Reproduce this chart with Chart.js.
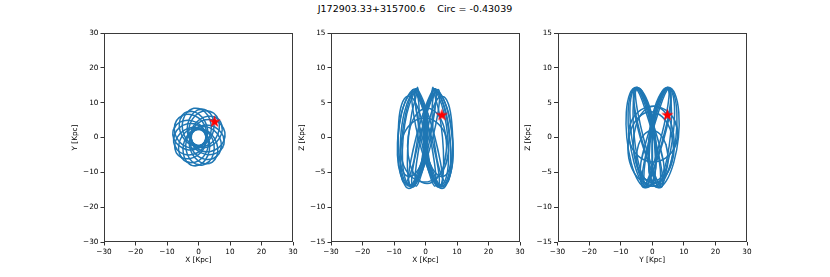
<!DOCTYPE html>
<html>
<head>
<meta charset="utf-8">
<script src="https://cdn.jsdelivr.net/npm/chart.js@4.4.0/dist/chart.umd.min.js"></script>
<style>
    body { margin: 0; background: #fff; }
    #quadro { position: relative; width: 830px; height: 277px; }
    #quadro canvas { position: absolute; left: 0; top: 0; }
    #titulo {
        position: absolute; left: 0; top: 3px; width: 830px;
        text-align: center; white-space: pre;
        font: 9.5px "DejaVu Sans"; line-height: 12px; color: #000;
    }
</style>
</head>
<body>
<div id="quadro">
    <div id="titulo">J172903.33+315700.6    Circ = -0.43039</div>
    <canvas id="painelXY" width="830" height="277"></canvas>
    <canvas id="painelXZ" width="830" height="277"></canvas>
    <canvas id="painelYZ" width="830" height="277"></canvas>
</div>
<script>
// Laços da órbita (kpc), cada um uma volta fechada
const orbitaXY = [
    [[8.37, 1.48], [7.26, 3.62], [5.02, 4.93], [2.25, 5.07], [-0.30, 3.99], [-1.95, 1.99], [-2.27, -0.40], [-1.15, -2.54], [1.09, -3.85], [3.85, -3.99], [6.41, -2.92], [8.06, -0.91]],
    [[4.88, 6.96], [2.58, 7.69], [0.07, 7.04], [-1.99, 5.18], [-3.03, 2.62], [-2.79, 0.03], [-1.32, -1.88], [0.98, -2.61], [3.49, -1.96], [5.55, -0.10], [6.59, 2.46], [6.35, 5.05]],
    [[-1.48, 8.37], [-3.62, 7.26], [-4.93, 5.02], [-5.07, 2.25], [-3.99, -0.30], [-1.99, -1.95], [0.40, -2.27], [2.54, -1.15], [3.85, 1.09], [3.99, 3.85], [2.92, 6.41], [0.91, 8.06]],
    [[-6.96, 4.88], [-7.69, 2.58], [-7.04, 0.07], [-5.18, -1.99], [-2.62, -3.03], [-0.03, -2.79], [1.88, -1.32], [2.61, 0.98], [1.96, 3.49], [0.10, 5.55], [-2.46, 6.59], [-5.05, 6.35]],
    [[-7.88, -1.39], [-6.80, -3.49], [-4.62, -4.77], [-1.93, -4.91], [0.56, -3.86], [2.16, -1.90], [2.46, 0.44], [1.38, 2.53], [-0.80, 3.82], [-3.49, 3.95], [-5.97, 2.90], [-7.58, 0.95]],
    [[-4.59, -6.55], [-2.35, -7.27], [0.11, -6.64], [2.11, -4.84], [3.12, -2.34], [2.87, 0.18], [1.44, 2.05], [-0.81, 2.76], [-3.26, 2.14], [-5.27, 0.33], [-6.28, -2.17], [-6.03, -4.68]],
    [[1.39, -7.88], [3.49, -6.80], [4.77, -4.62], [4.91, -1.93], [3.86, 0.56], [1.90, 2.16], [-0.44, 2.46], [-2.53, 1.38], [-3.82, -0.80], [-3.95, -3.49], [-2.90, -5.97], [-0.95, -7.58]],
    [[6.55, -4.59], [7.27, -2.35], [6.64, 0.11], [4.84, 2.11], [2.34, 3.12], [-0.18, 2.87], [-2.05, 1.44], [-2.76, -0.81], [-2.14, -3.26], [-0.33, -5.27], [2.17, -6.28], [4.68, -6.03]],
    [[7.04, 4.40], [5.32, 5.80], [2.86, 6.08], [0.32, 5.15], [-1.63, 3.27], [-2.46, 0.94], [-1.95, -1.22], [-0.24, -2.62], [2.23, -2.90], [4.77, -1.97], [6.72, -0.09], [7.55, 2.24]],
    [[-7.04, -4.40], [-5.32, -5.80], [-2.86, -6.08], [-0.32, -5.15], [1.63, -3.27], [2.46, -0.94], [1.95, 1.22], [0.24, 2.62], [-2.23, 2.90], [-4.77, 1.97], [-6.72, 0.09], [-7.55, -2.24]],
    [[-4.40, 7.04], [-5.80, 5.32], [-6.08, 2.86], [-5.15, 0.32], [-3.27, -1.63], [-0.94, -2.46], [1.22, -1.95], [2.62, -0.24], [2.90, 2.23], [1.97, 4.77], [0.09, 6.72], [-2.24, 7.55]],
    [[4.40, -7.04], [5.80, -5.32], [6.08, -2.86], [5.15, -0.32], [3.27, 1.63], [0.94, 2.46], [-1.22, 1.95], [-2.62, 0.24], [-2.90, -2.23], [-1.97, -4.77], [-0.09, -6.72], [2.24, -7.55]],
    [[1.87, 8.08], [-0.34, 7.87], [-2.27, 6.32], [-3.42, 3.87], [-3.46, 1.16], [-2.40, -1.08], [-0.52, -2.24], [1.69, -2.02], [3.62, -0.48], [4.77, 1.98], [4.81, 4.69], [3.75, 6.92]],
    [[-1.87, -8.08], [0.34, -7.87], [2.27, -6.32], [3.42, -3.87], [3.46, -1.16], [2.40, 1.08], [0.52, 2.24], [-1.69, 2.02], [-3.62, 0.48], [-4.77, -1.98], [-4.81, -4.69], [-3.75, -6.92]],
    [[-8.08, 1.87], [-7.87, -0.34], [-6.32, -2.27], [-3.87, -3.42], [-1.16, -3.46], [1.08, -2.40], [2.24, -0.52], [2.02, 1.69], [0.48, 3.62], [-1.98, 4.77], [-4.69, 4.81], [-6.92, 3.75]],
    [[8.08, -1.87], [7.87, 0.34], [6.32, 2.27], [3.87, 3.42], [1.16, 3.46], [-1.08, 2.40], [-2.24, 0.52], [-2.02, -1.69], [-0.48, -3.62], [1.98, -4.77], [4.69, -4.81], [6.92, -3.75]]
];

const orbitaXZ = [
    [[0.70, 0], [0.30, 3.5], [-2.0, 6.0], [-3.0, 7.0], [-5.48, 6.06], [-7.57, 3.5], [-8.7, 0], [-8.57, -3.5], [-7.22, -6.06], [-5.0, -7.0], [-2.52, -6.06], [-0.43, -3.5]],
    [[0.10, 0], [0.30, 3.4], [-1.9, 5.8], [-2.6, 6.8], [-4.12, 5.89], [-5.94, 3.4], [-7.10, 0], [-7.30, -3.4], [-6.48, -5.89], [-4.86, -6.8], [-2.88, -5.89], [-1.06, -3.4]],
    [[-0.20, 0], [0.16, 3.55], [-2.0, 6.3], [-2.6, 7.2], [-2.87, 6.15], [-4.34, 3.55], [-5.40, 0], [-5.76, -3.55], [-5.33, -6.15], [-4.22, -7.1], [-2.73, -6.15], [-1.26, -3.55]],
    [[0.5, 0], [0.4, 3.45], [-1.95, 5.9], [-2.8, 6.9], [-4.8, 6.0], [-6.8, 3.45], [-7.9, 0], [-7.95, -3.45], [-6.85, -6.0], [-4.9, -6.9], [-2.7, -6.0], [-0.7, -3.45]],
    [[0.4, -0.5], [0.0, 3.0], [-2.2, 5.7], [-3.6, 6.6], [-5.9, 5.6], [-7.9, 3.0], [-8.9, -0.8], [-8.6, -4.0], [-7.0, -6.4], [-5.5, -7.3], [-3.2, -6.6], [-0.9, -4.2]],
    [[-2.5, 0], [-2.02, 3.25], [-2.34, 5.63], [-3.37, 6.5], [-4.84, 5.63], [-6.36, 3.25], [-7.5, 0], [-7.98, -3.25], [-7.66, -5.63], [-6.63, -6.5], [-5.16, -5.63], [-3.64, -3.25]],
    [[0.2, -1.0], [-1.5, 3.0], [-4.0, 5.6], [-6.2, 5.8], [-7.9, 4.2], [-8.6, 1.2], [-8.4, -2.5], [-7.0, -5.0], [-4.8, -5.6], [-2.6, -4.8], [-0.9, -3.3], [0.4, -2.2]],
    [[-0.70, 0], [-0.30, 3.5], [1.8, 6.0], [2.8, 7.0], [5.1, 6.06], [7.2, 3.5], [8.5, 0], [8.6, -3.5], [7.3, -6.06], [5.2, -7.1], [2.6, -6.1], [0.45, -3.5]],
    [[-0.10, 0], [-0.30, 3.4], [1.8, 5.8], [2.4, 6.8], [4.12, 5.89], [5.94, 3.4], [7.10, 0], [7.30, -3.4], [6.48, -5.89], [4.86, -6.8], [2.88, -5.89], [1.06, -3.4]],
    [[0.20, 0], [-0.16, 3.55], [1.9, 6.3], [2.4, 7.2], [2.87, 6.15], [4.34, 3.55], [5.40, 0], [5.76, -3.55], [5.33, -6.15], [4.22, -7.1], [2.73, -6.15], [1.26, -3.55]],
    [[-0.5, 0], [-0.4, 3.45], [1.85, 5.9], [2.6, 6.9], [4.6, 6.0], [6.6, 3.45], [7.8, 0], [8.0, -3.45], [6.9, -6.0], [5.0, -7.0], [2.7, -6.0], [0.7, -3.45]],
    [[-0.4, -0.5], [0.0, 3.0], [2.0, 5.7], [3.3, 6.6], [5.6, 5.6], [7.6, 3.0], [8.7, -0.8], [8.5, -4.0], [7.0, -6.4], [5.5, -7.3], [3.2, -6.6], [0.9, -4.2]],
    [[2.6, 0], [2.1, 3.25], [2.4, 5.63], [3.4, 6.5], [4.9, 5.63], [6.5, 3.25], [7.6, 0], [8.1, -3.25], [7.7, -5.63], [6.7, -6.5], [5.2, -5.63], [3.7, -3.25]],
    [[-0.2, -1.0], [1.5, 3.0], [3.9, 5.6], [6.0, 5.8], [7.6, 4.3], [8.5, 1.2], [8.5, -2.5], [7.1, -5.0], [4.9, -5.6], [2.7, -4.8], [1.0, -3.3], [-0.3, -2.2]],
    [[3.0, 0], [0.73, 3.5], [-1.46, 6.06], [-3.0, 7.0], [-3.46, 6.06], [-2.73, 3.5], [-1.0, 0], [1.27, -3.5], [3.46, -6.06], [5.0, -7.0], [5.46, -6.06], [4.73, -3.5]],
    [[-3.0, 0], [-0.73, 3.5], [1.46, 6.06], [3.0, 7.0], [3.46, 6.06], [2.73, 3.5], [1.0, 0], [-1.27, -3.5], [-3.46, -6.06], [-5.0, -7.0], [-5.46, -6.06], [-4.73, -3.5]],
    [[1.5, 0], [-0.2, 3.5], [-1.85, 6.06], [-3.0, 7.0], [-3.35, 6.06], [-2.8, 3.5], [-1.5, 0], [0.2, -3.5], [1.85, -6.06], [3.0, -7.0], [3.35, -6.06], [2.8, -3.5]],
    [[-1.5, 0], [0.2, 3.5], [1.85, 6.06], [3.0, 7.0], [3.35, 6.06], [2.8, 3.5], [1.5, 0], [-0.2, -3.5], [-1.85, -6.06], [-3.0, -7.0], [-3.35, -6.06], [-2.8, -3.5]],
    [[1.8, 0.2], [-0.5, 3.6], [-2.5, 6.1], [-3.9, 6.9], [-4.4, 6.0], [-3.8, 3.4], [-2.2, -0.2], [0.1, -3.7], [2.3, -6.1], [3.9, -7.1], [4.4, -6.1], [3.6, -3.4]],
    [[-1.8, 0.2], [0.5, 3.6], [2.6, 6.1], [4.0, 6.9], [4.5, 6.0], [3.9, 3.4], [2.2, -0.2], [-0.1, -3.7], [-2.3, -6.1], [-3.9, -7.1], [-4.4, -6.1], [-3.6, -3.4]],
    [[6.7, -1.2], [5.87, 1.5], [3.6, 3.48], [0.5, 4.2], [-2.6, 3.48], [-4.87, 1.5], [-5.7, -1.2], [-4.87, -3.9], [-2.6, -5.88], [0.5, -6.6], [3.6, -5.88], [5.87, -3.9]],
    [[7.3, -1.8], [6.28, 0.5], [3.5, 2.18], [-0.3, 2.8], [-4.1, 2.18], [-6.88, 0.5], [-7.9, -1.8], [-6.88, -4.1], [-4.1, -5.78], [-0.3, -6.4], [3.5, -5.78], [6.28, -4.1]]
];

const orbitaYZ = [
    [[1.06, 0], [-0.32, 3.6], [-2.56, 6.24], [-5.04, 7.2], [-7.12, 6.24], [-8.22, 3.6], [-8.06, 0], [-6.68, -3.6], [-4.44, -6.24], [-1.96, -7.2], [0.12, -6.24], [1.22, -3.6]],
    [[0.5, 0], [-1.02, 3.5], [-3.07, 6.06], [-5.10, 7.0], [-6.57, 6.06], [-7.08, 3.5], [-6.5, 0], [-4.98, -3.5], [-2.93, -6.06], [-0.9, -7.0], [0.57, -6.06], [1.08, -3.5]],
    [[0.80, 0], [-1.43, 3.55], [-3.54, 6.15], [-4.98, 7.1], [-5.34, 6.15], [-4.55, 3.55], [-2.80, 0], [-0.57, -3.55], [1.54, -6.15], [2.98, -7.1], [3.34, -6.15], [2.55, -3.55]],
    [[0.8, 0], [-0.6, 3.55], [-2.8, 6.15], [-5.07, 7.1], [-6.85, 6.15], [-7.65, 3.55], [-7.3, 0], [-5.8, -3.55], [-3.7, -6.15], [-1.4, -7.1], [0.35, -6.15], [1.15, -3.55]],
    [[1.6, 0], [-0.9, 3.6], [-3.2, 6.2], [-4.8, 7.2], [-5.9, 6.2], [-5.6, 3.6], [-3.8, 0], [-1.2, -3.6], [1.1, -6.2], [2.5, -7.2], [3.7, -6.2], [3.6, -3.6]],
    [[0.3, 0.3], [-2.0, 3.7], [-4.0, 6.2], [-5.3, 7.0], [-5.9, 6.0], [-5.2, 3.3], [-3.3, -0.3], [-1.0, -3.8], [0.9, -6.3], [2.2, -7.2], [2.7, -6.2], [2.2, -3.3]],
    [[-0.2, 0.5], [-1.24, 3.8], [-2.74, 6.22], [-4.32, 7.1], [-5.54, 6.22], [-6.08, 3.8], [-5.8, 0.5], [-4.76, -2.8], [-3.26, -5.22], [-1.68, -6.1], [-0.46, -5.22], [0.08, -2.8]],
    [[-1.06, 0], [0.32, 3.6], [2.56, 6.24], [5.04, 7.2], [7.2, 6.24], [8.4, 3.6], [8.3, 0], [6.8, -3.6], [4.44, -6.24], [1.96, -7.2], [-0.12, -6.24], [-1.22, -3.6]],
    [[-0.5, 0], [1.02, 3.5], [3.07, 6.06], [5.10, 7.0], [6.57, 6.06], [7.08, 3.5], [6.5, 0], [4.98, -3.5], [2.93, -6.06], [0.9, -7.0], [-0.57, -6.06], [-1.08, -3.5]],
    [[-0.80, 0], [1.43, 3.55], [3.54, 6.15], [4.98, 7.1], [5.34, 6.15], [4.55, 3.55], [2.80, 0], [0.57, -3.55], [-1.54, -6.15], [-2.98, -7.1], [-3.34, -6.15], [-2.55, -3.55]],
    [[-0.8, 0], [0.6, 3.55], [2.8, 6.15], [5.07, 7.1], [6.9, 6.15], [7.8, 3.55], [7.5, 0], [5.9, -3.55], [3.7, -6.15], [1.4, -7.1], [-0.35, -6.15], [-1.15, -3.55]],
    [[-1.6, 0], [0.9, 3.6], [3.2, 6.2], [4.8, 7.2], [5.9, 6.2], [5.6, 3.6], [3.8, 0], [1.2, -3.6], [-1.1, -6.2], [-2.5, -7.2], [-3.7, -6.2], [-3.6, -3.6]],
    [[-0.3, 0.3], [2.0, 3.7], [4.0, 6.2], [5.3, 7.0], [5.9, 6.0], [5.2, 3.3], [3.3, -0.3], [1.0, -3.8], [-0.9, -6.3], [-2.2, -7.2], [-2.7, -6.2], [-2.2, -3.3]],
    [[0.2, 0.5], [1.24, 3.8], [2.74, 6.22], [4.32, 7.1], [5.54, 6.22], [6.08, 3.8], [5.8, 0.5], [4.76, -2.8], [3.26, -5.22], [1.68, -6.1], [0.46, -5.22], [-0.08, -2.8]],
    [[7.0, -1], [6.13, 1.75], [3.75, 3.76], [0.5, 4.5], [-2.75, 3.76], [-5.13, 1.75], [-6.0, -1], [-5.13, -3.75], [-2.75, -5.76], [0.5, -6.5], [3.75, -5.76], [6.13, -3.75]],
    [[6.7, -1.5], [5.74, 1.1], [3.1, 3.0], [-0.5, 3.7], [-4.1, 3.0], [-6.74, 1.1], [-7.7, -1.5], [-6.74, -4.1], [-4.1, -6.0], [-0.5, -6.7], [3.1, -6.0], [5.74, -4.1]],
    [[8.1, 0.5], [7.05, 2.5], [4.2, 3.96], [0.3, 4.5], [-3.6, 3.96], [-6.45, 2.5], [-7.5, 0.5], [-6.45, -1.5], [-3.6, -2.96], [0.3, -3.5], [4.2, -2.96], [7.05, -1.5]],
    [[5.0, -3.0], [4.33, -1.0], [2.5, 0.46], [0.0, 1.0], [-2.5, 0.46], [-4.33, -1.0], [-5.0, -3.0], [-4.33, -5.0], [-2.5, -6.46], [0.0, -7.0], [2.5, -6.46], [4.33, -5.0]]
];

// posição atual da estrela
const estrelaXY = [5.1, 4.8];
const estrelaXZ = [5.2, 3.35];
const estrelaYZ = [4.8, 3.35];

const corOrbita = '#1f77b4';
const fonte = 'DejaVu Sans';

// marcador estrela de 5 pontas (o 'star' do Chart.js é um asterisco)
function criarEstrela(raio) {
    const tam = Math.ceil(raio * 2 + 2);
    const c = document.createElement('canvas');
    c.width = tam;
    c.height = tam;
    const ctx = c.getContext('2d');
    ctx.beginPath();
    for (let i = 0; i < 10; i++) {
        const r = i % 2 === 0 ? raio : raio * 0.4;
        const ang = -Math.PI / 2 + i * Math.PI / 5;
        const px = tam / 2 + r * Math.cos(ang);
        const py = tam / 2 + 1 + r * Math.sin(ang);
        if (i === 0) ctx.moveTo(px, py); else ctx.lineTo(px, py);
    }
    ctx.closePath();
    ctx.fillStyle = '#ff0000';
    ctx.fill();
    return c;
}
const imagemEstrela = criarEstrela(6.5);

// moldura completa em volta da área do gráfico
const moldura = {
    id: 'moldura',
    afterDraw(chart) {
        const a = chart.chartArea;
        const ctx = chart.ctx;
        ctx.save();
        ctx.strokeStyle = '#3a3a3a';
        ctx.lineWidth = 1;
        const l = Math.round(a.left) + 0.5, t = Math.round(a.top) + 0.5;
        const r = Math.round(a.right) - 0.5, b = Math.round(a.bottom) - 0.5;
        ctx.strokeRect(l, t, r - l, b - t);
        ctx.restore();
    }
};

function montarPontos(laco) {
    // repete pontos nas pontas para a curva fechar sem bico
    const n = laco.length;
    const seq = [laco[n - 1]].concat(laco, [laco[0], laco[1]]);
    return seq.map(p => ({ x: p[0], y: p[1] }));
}

function formatarTick(v) {
    return String(v).replace('-', '\u2212');
}

function eixo(min, max, passo, titulo) {
    return {
        type: 'linear',
        min: min,
        max: max,
        ticks: {
            stepSize: passo,
            autoSkip: false,
            maxRotation: 0,
            padding: 2,
            color: '#000',
            font: { family: fonte, size: 7.3 },
            callback: formatarTick
        },
        grid: { display: true, drawOnChartArea: false, drawTicks: true, tickLength: 3.5, color: '#333' },
        border: { display: false },
        title: { display: true, text: titulo, color: '#000', padding: 0, font: { family: fonte, size: 7.3 } }
    };
}

function criarPainel(idCanvas, lacos, estrela, tituloX, tituloY, limiteY, passoY, esquerda, direita) {
    let datasets = [];

    datasets.push({
        data: [{ x: estrela[0], y: estrela[1] }],
        pointStyle: imagemEstrela,
        pointRadius: 7,
        showLine: false,
        order: 0
    });

    for (let i = 0; i < lacos.length; i++) {
        datasets.push({
            data: montarPontos(lacos[i]),
            showLine: true,
            borderColor: corOrbita,
            borderWidth: 1.5,
            pointRadius: 0,
            tension: 0.4,
            fill: false,
            order: 1
        });
    }

    let eixoX = eixo(-30, 30, 10, tituloX);
    eixoX.afterFit = function (s) { s.height = 22.5; };
    let eixoY = eixo(-limiteY, limiteY, passoY, tituloY);
    eixoY.afterFit = function (s) { s.width = 33.5; };

    const config = {
        type: 'scatter',
        data: { datasets: datasets },
        options: {
            responsive: false,
            animation: false,
            devicePixelRatio: 1,
            events: [],
            layout: { padding: { left: esquerda - 33.5, right: 830 - direita, top: 33, bottom: 12.5 } },
            plugins: { legend: { display: false }, tooltip: { enabled: false } },
            scales: { x: eixoX, y: eixoY }
        },
        plugins: [moldura]
    };

    new Chart(document.getElementById(idCanvas), config);
}

criarPainel('painelXY', orbitaXY, estrelaXY, 'X [Kpc]', 'Y [Kpc]', 30, 10, 104, 293);
criarPainel('painelXZ', orbitaXZ, estrelaXZ, 'X [Kpc]', 'Z [Kpc]', 15, 5, 331, 520);
criarPainel('painelYZ', orbitaYZ, estrelaYZ, 'Y [Kpc]', 'Z [Kpc]', 15, 5, 557.5, 747);
</script>
</body>
</html>
